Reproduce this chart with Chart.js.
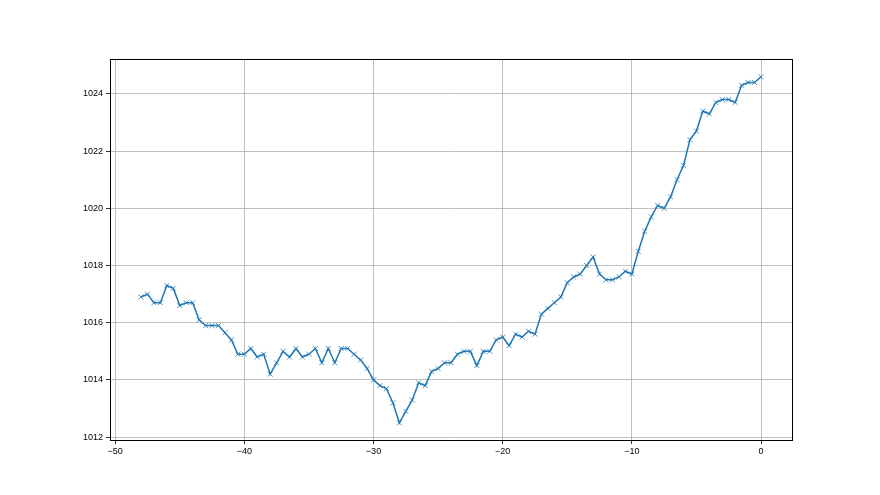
<!DOCTYPE html>
<html>
<head>
<meta charset="utf-8">
<script src="https://cdn.jsdelivr.net/npm/chart.js@4"></script>
<style>
  html, body { margin: 0; padding: 0; background: #fff; }
  #wrap { width: 880px; height: 495px; }
</style>
</head>
<body>
<div id="wrap"><canvas id="chart"></canvas></div>
<script>
// x positions (every half unit, -48 .. 0)
const xValues = [];
for (let i = 0; i <= 96; i++) xValues.push(-48 + i * 0.5);

// series
const pressure = [
  1016.9, 1017.0, 1016.7, 1016.7, 1017.3, 1017.2, 1016.6, 1016.7, 1016.7, 1016.1,
  1015.9, 1015.9, 1015.9, 1015.65, 1015.4, 1014.9, 1014.9, 1015.1, 1014.8, 1014.9,
  1014.2, 1014.6, 1015.0, 1014.8, 1015.1, 1014.8, 1014.9, 1015.1, 1014.6, 1015.1,
  1014.6, 1015.1, 1015.1, 1014.9, 1014.7, 1014.4, 1014.0, 1013.8, 1013.7, 1013.2,
  1012.5, 1012.9, 1013.3, 1013.9, 1013.8, 1014.3, 1014.4, 1014.6, 1014.6, 1014.9,
  1015.0, 1015.0, 1014.5, 1015.0, 1015.0, 1015.4, 1015.5, 1015.2, 1015.6, 1015.5,
  1015.7, 1015.6, 1016.3, 1016.5, 1016.7, 1016.9, 1017.4, 1017.6, 1017.7, 1018.0,
  1018.3, 1017.7, 1017.5, 1017.5, 1017.6, 1017.8, 1017.7, 1018.5, 1019.2, 1019.7,
  1020.1, 1020.0, 1020.4, 1021.0, 1021.5, 1022.4, 1022.7, 1023.4, 1023.3, 1023.7,
  1023.8, 1023.8, 1023.7, 1024.3, 1024.4, 1024.4, 1024.6
];

const xTicks = [-50, -40, -30, -20, -10, 0];
const yTicks = [1012, 1014, 1016, 1018, 1020, 1022, 1024];

const tickFont = { family: "'Liberation Sans', 'DejaVu Sans', sans-serif", size: 9 };
const fmt = (v) => String(v).replace('-', '\u2212');

// matplotlib-style box around the axes
const frame = {
  id: 'frame',
  afterDraw: (chart) => {
    const { left, right, top, bottom } = chart.chartArea;
    const ctx = chart.ctx;
    ctx.save();
    ctx.strokeStyle = '#000';
    ctx.lineWidth = 1;
    ctx.strokeRect(Math.round(left) + 0.5, Math.round(top) + 0.5,
                   Math.round(right - left), Math.round(bottom - top));
    ctx.restore();
  }
};

new Chart(document.getElementById('chart'), {
  type: 'line',
  data: {
    datasets: [{
      data: xValues.map((x, i) => ({ x: x, y: pressure[i] })),
      borderColor: '#1f77b4',
      backgroundColor: '#1f77b4',
      borderWidth: 1.5,
      pointStyle: 'crossRot',
      pointRadius: 3.5,
      pointBorderWidth: 1,
      pointBorderColor: 'rgba(31,119,180,0.8)',
      tension: 0,
    }]
  },
  options: {
    responsive: true,
    maintainAspectRatio: false,
    animation: false,
    layout: { padding: { left: 0, right: 88, top: 59, bottom: 0 } },
    plugins: { legend: { display: false }, tooltip: { enabled: false } },
    scales: {
      x: {
        type: 'linear',
        min: -50.4,
        max: 2.4,
        afterBuildTicks: (s) => { s.ticks = xTicks.map(v => ({ value: v })); },
        afterFit: (s) => { s.height = 55; },
        grid: { color: '#b0b0b0', lineWidth: 0.8, tickColor: '#000', tickLength: 4 },
        border: { color: '#000' },
        ticks: { color: '#000', font: tickFont, padding: 2, maxRotation: 0, callback: fmt }
      },
      y: {
        type: 'linear',
        min: 1011.9,
        max: 1025.22,
        afterBuildTicks: (s) => { s.ticks = yTicks.map(v => ({ value: v })); },
        afterFit: (s) => { s.width = 110; },
        grid: { color: '#b0b0b0', lineWidth: 0.8, tickColor: '#000', tickLength: 4 },
        border: { color: '#000' },
        ticks: { color: '#000', font: tickFont, padding: 3, callback: fmt }
      }
    }
  },
  plugins: [frame]
});
</script>
</body>
</html>
